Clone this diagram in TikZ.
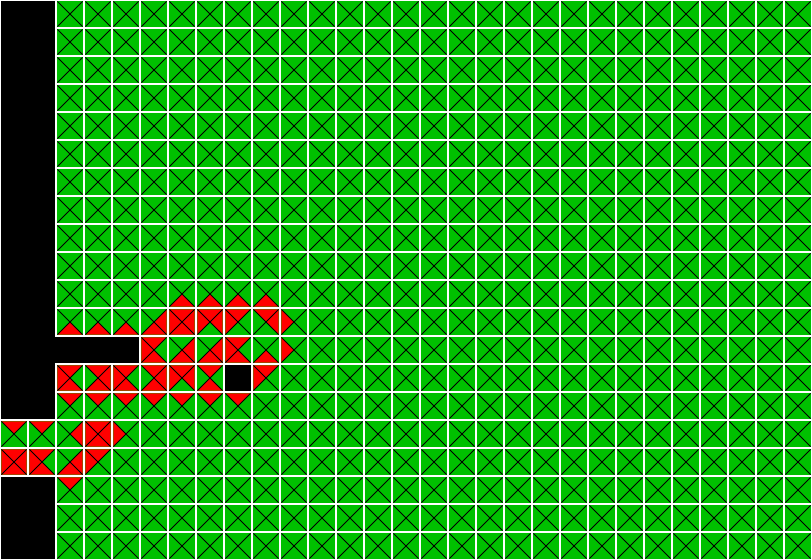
\documentclass[tikz,border=0pt]{standalone}

\begin{document}
\begin{tikzpicture}[x=0.5cm,y=-0.5cm,
    gruen/.style={fill={rgb,255:red,0;green,192;blue,0}},
    rot/.style={fill={rgb,255:red,255;green,0;blue,0}},
    diag/.style={draw=black,line width=0.4pt},
    wand/.style={fill=black}]
        % =========================================================
        % RASTER: 29 Spalten x 20 Zeilen, Zelle = 1 Einheit
        % Luecke zwischen den Zellen: 2*\g
        % =========================================================
        \def\g{0.05}

        \fill[white] (0,0) rectangle (29,20);
        \useasboundingbox (0,0) rectangle (29,20);

        % ---------------------------------------------------------
        % Gruene Zellen
        % ---------------------------------------------------------
        \foreach \c in {0,...,28}
            \foreach \r in {0,...,19}
                \fill[gruen] (\c+\g,\r+\g) rectangle (\c+1-\g,\r+1-\g);

        % ---------------------------------------------------------
        % Rote Dreiecke (oben, rechts, unten, links)
        % ---------------------------------------------------------
        % oben
        \foreach \c/\r in {6/11,7/11,8/11,9/11,
                           2/13,3/13,4/13,5/13,6/13,7/13,9/13,
                           2/14,3/14,4/14,5/14,6/14,7/14,8/14,
                           0/15,1/15,3/15,
                           0/16,1/16,3/16,2/17,
                           5/12,8/12}
            \fill[rot] (\c+0.5,\r+0.5) -- (\c+\g,\r+\g) -- (\c+1-\g,\r+\g) -- cycle;

        % rechts
        \foreach \c/\r in {5/11,6/11,7/11,9/11,
                           6/12,7/12,
                           3/13,5/13,6/13,
                           2/15,3/15,0/16,2/16}
            \fill[rot] (\c+0.5,\r+0.5) -- (\c+1-\g,\r+\g) -- (\c+1-\g,\r+1-\g) -- cycle;

        % unten
        \foreach \c/\r in {6/10,7/10,8/10,9/10,
                           2/11,3/11,4/11,5/11,6/11,
                           5/12,6/12,7/12,8/12,9/12,
                           2/13,3/13,4/13,5/13,7/13,
                           3/15,0/16,1/16,2/16}
            \fill[rot] (\c+0.5,\r+0.5) -- (\c+1-\g,\r+1-\g) -- (\c+\g,\r+1-\g) -- cycle;

        % links
        \foreach \c/\r in {6/11,7/11,8/11,10/11,
                           5/12,8/12,10/12,
                           2/13,4/13,6/13,9/13,
                           3/15,4/15,0/16,1/16,3/16}
            \fill[rot] (\c+0.5,\r+0.5) -- (\c+\g,\r+1-\g) -- (\c+\g,\r+\g) -- cycle;

        % ---------------------------------------------------------
        % Diagonalen
        % ---------------------------------------------------------
        \foreach \c in {0,...,28}
            \foreach \r in {0,...,19}{
                \draw[diag] (\c+\g,\r+\g) -- (\c+1-\g,\r+1-\g);
                \draw[diag] (\c+1-\g,\r+\g) -- (\c+\g,\r+1-\g);
            }

        % ---------------------------------------------------------
        % Waende
        % ---------------------------------------------------------
        \fill[wand] (\g,\g) rectangle (2-\g,15-\g);
        \fill[wand] (\g,12+\g) rectangle (5-\g,13-\g);
        \fill[wand] (\g,17+\g) rectangle (2-\g,20-\g);
        \fill[wand] (8+\g,13+\g) rectangle (9-\g,14-\g);

\end{tikzpicture}
\end{document}
